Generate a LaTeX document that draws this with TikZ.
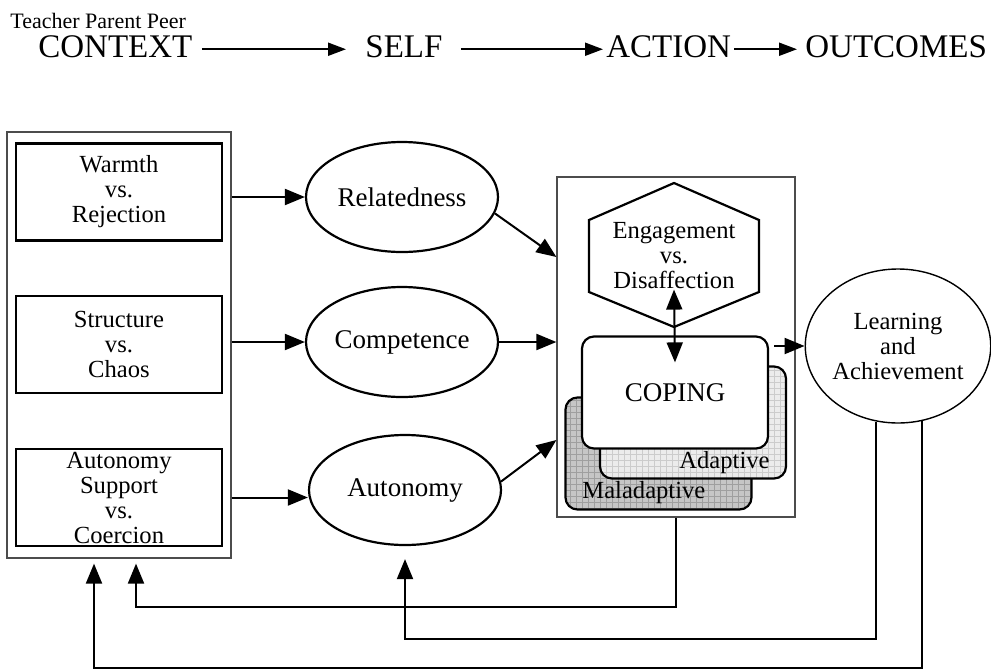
\documentclass[tikz,border=0pt]{standalone}
\usepackage{fontspec}
\setmainfont{Liberation Serif}
\usetikzlibrary{arrows.meta,shapes.geometric,patterns,calc}

\begin{document}
\begin{tikzpicture}[x=0.5pt,y=-0.5pt,
  every node/.style={inner sep=0pt, align=center},
  hd/.style={font=\fontsize{16.5}{18}\selectfont},
  txt/.style={font=\fontsize{12.3}{12.5}\selectfont},
  hdtip/.style={-{Triangle[length=9pt,width=6.5pt]}, line width=1pt},
  tip/.style={-{Triangle[length=10pt,width=8pt]}, line width=1pt},
  dbl/.style={{Triangle[length=10pt,width=8pt]}-{Triangle[length=10pt,width=8pt]}, line width=1pt},
  frame/.style={draw=gray!60!black, line width=0.6pt},
  ctxbox/.style={draw, txt, line width=1.4pt, minimum width=103pt, minimum height=48.5pt},
  need/.style={draw, ellipse, line width=1.1pt, minimum width=96pt, minimum height=55pt,
    font=\fontsize{13.5}{15}\selectfont},
  copebox/.style={draw, line width=1.1pt, rounded corners=6pt, minimum width=93pt, minimum height=56pt}]
\useasboundingbox (0,0) rectangle (991,670);

% header
\node[font=\fontsize{11}{12}\selectfont, anchor=base west] (who) at (10,28) {Teacher Parent Peer};
\node[hd, anchor=base west] (hctx) at (38,57) {CONTEXT};
\node[hd, anchor=base west] (hself) at (365,57) {SELF};
\node[hd, anchor=base west] (hact) at (606,57) {ACTION};
\node[hd, anchor=base west] (hout) at (805,57) {OUTCOMES};
\draw[hdtip, shorten <=4.5pt, shorten >=9.5pt] ([yshift=-1.5pt]hctx.east) -- ([yshift=-1.5pt]hself.west);
\draw[hdtip, shorten <=9pt, shorten >=1.5pt] ([yshift=-1.5pt]hself.east) -- ([yshift=-1.5pt]hact.west);
\draw[hdtip, shorten <=1.5pt, shorten >=4pt] ([yshift=-1.5pt]hact.east) -- ([yshift=-1.5pt]hout.west);

% context
\node[frame, minimum width=112pt, minimum height=213pt] (ctx) at (119,345) {};
\node[ctxbox] (warm) at (119,192) {Warmth\\vs.\\Rejection};
\node[ctxbox] (struc) at (119,344.5) {Structure\\vs.\\Chaos};
\node[ctxbox] (supp) at (119,497.5) {Autonomy\\Support\\vs.\\Coercion};

% self
\node[need] (rel) at (402,197) {Relatedness};
\node[need] (comp) at (402,342) {Competence};
\node[need] (auto) at (405,490) {Autonomy};

% action
\node[frame, minimum width=119pt, minimum height=170pt] (act) at (676,347) {};
\draw[line width=1.1pt] (674,183) -- (759,220) -- (759,292) -- (674,327) -- (589,292) -- (589,220) -- cycle;
\node[txt] (eng) at (674,256) {Engagement\\vs.\\Disaffection};
\node[copebox, preaction={fill=gray!45}, pattern=grid, pattern color=gray!75] (mal) at (658.5,453.5) {};
\node[copebox, preaction={fill=gray!15}, pattern=grid, pattern color=gray!40] (adap) at (693,422.5) {};
\node[copebox, fill=white, font=\fontsize{13.5}{15}\selectfont] (cope) at (675,392.5) {COPING};
\node[txt, anchor=east] (adt) at (770,463) {Adaptive};
\node[txt, anchor=west] (malt) at (582,493) {Maladaptive};
\draw[dbl] (eng.south) -- ([yshift=-13.5pt]cope.north);

% outcomes
\node[draw, ellipse, txt, line width=0.7pt, minimum width=90pt, minimum height=77pt] (learn) at (898,346) {Learning\\and\\Achievement};

% forward arrows
\draw[tip] (ctx.east |- rel) -- (rel.west);
\draw[tip] (ctx.east |- comp) -- (comp.west);
\draw[tip] (ctx.east |- supp) -- (supp -| auto.west);
\draw[tip] (rel.-10) -- (act.west |- 0,257);
\draw[tip] (comp.east) -- (comp -| act.west);
\draw[tip] (auto.5) -- (act.west |- 0,440);
\draw[tip] ([xshift=2.5pt]cope.east |- learn) -- (learn.west);

% feedback
\draw[tip, shorten >=2.5pt] (act.south) -- (act.south |- 0,607) -- (136,607) -- (ctx.south -| 136,0);
\draw[tip, shorten >=6.5pt] (learn.254) -- (learn.254 |- 0,639) -- (auto.south |- 0,639) -- (auto.south);
\draw[tip, shorten >=2.5pt] (learn.288) -- (learn.288 |- 0,668) -- (94,668) -- (ctx.south -| 94,0);
\end{tikzpicture}
\end{document}
